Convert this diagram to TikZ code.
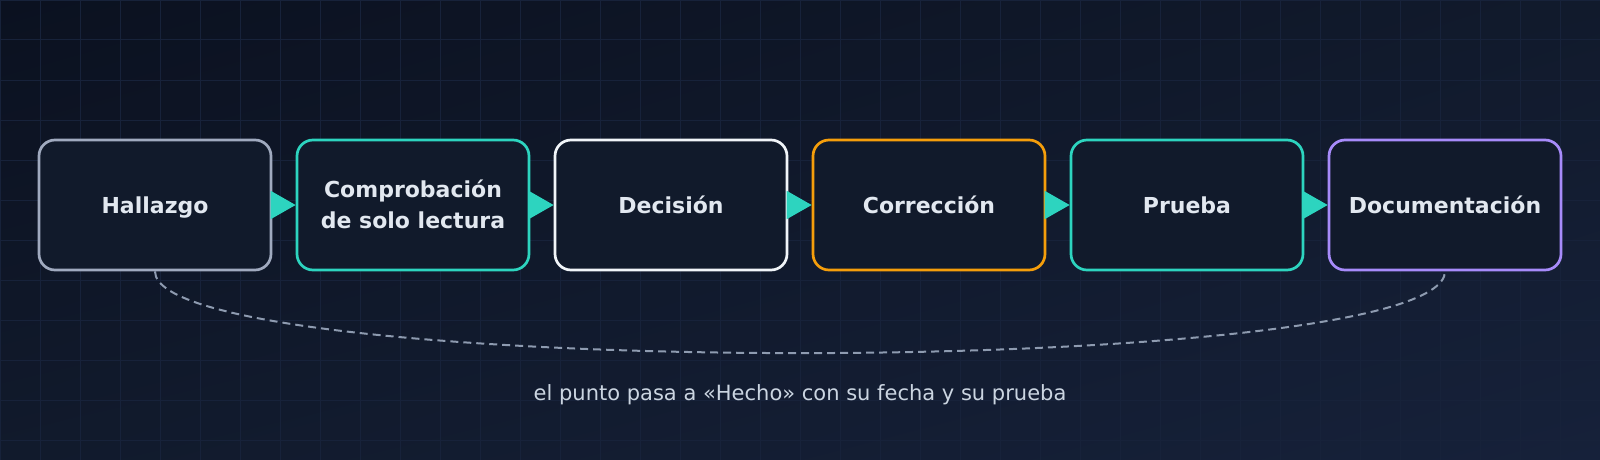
\documentclass[tikz,border=0pt]{standalone}
\usepackage{fontspec}
\setmainfont{DejaVu Sans}
\usetikzlibrary{arrows.meta, positioning, shadings}
\definecolor{bgtop}{HTML}{0B1120}
\definecolor{bgmid}{HTML}{111A2C}
\definecolor{bgbot}{HTML}{16213A}
\definecolor{gridc}{HTML}{17223A}
\definecolor{boxfill}{HTML}{111A2B}
\definecolor{txtc}{HTML}{E2E8F0}
\definecolor{slatec}{HTML}{A0AABF}
\definecolor{tealc}{HTML}{2DD4BF}
\definecolor{whitec}{HTML}{F1F5F9}
\definecolor{orangec}{HTML}{F59E0B}
\definecolor{purplec}{HTML}{A78BFA}
\definecolor{dashc}{HTML}{8E9BB0}
\definecolor{capc}{HTML}{CBD5E1}
\tikzstyle{stage} = [rectangle, rounded corners=16pt, minimum width=232pt, minimum height=130pt, text centered, align=center, line width=2.7pt, fill=boxfill, text=txtc, text height=16pt, text depth=0pt, font=\bfseries\fontsize{22}{31}\selectfont]
\tikzstyle{arrow} = [draw=tealc, fill=tealc, line width=2pt, -{Triangle[length=25pt, width=28pt]}]
\tikzstyle{loopback} = [draw=dashc, line width=2pt, dash pattern=on 8pt off 5pt]
\tikzstyle{caption} = [text=capc, font=\fontsize{21}{25}\selectfont]

\begin{document}
\begin{tikzpicture}[node distance=23.3pt]

% Background
\useasboundingbox (0,0) rectangle (1600pt,-460pt);
\shade[upper left=bgtop, upper right=bgmid, lower left=bgmid, lower right=bgbot] (0,0) rectangle (1600pt,-460pt);
\draw[gridc, line width=1pt, step=40pt] (0,0) grid (1600pt,-460pt);

% Nodes
\node (hallazgo) [stage, draw=slatec] at (155pt,-205pt) {Hallazgo};
\node (comprobacion) [stage, draw=tealc, text height=47pt, right=of hallazgo] {Comprobación\\de solo lectura};
\node (decision) [stage, draw=whitec, right=of comprobacion] {Decisión};
\node (correccion) [stage, draw=orangec, right=of decision] {Corrección};
\node (prueba) [stage, draw=tealc, right=of correccion] {Prueba};
\node (documentacion) [stage, draw=purplec, right=of prueba] {Documentación};
\node (nota) [caption] at (800pt,-395pt) {el punto pasa a «Hecho» con su fecha y su prueba};

% Arrows
\draw [arrow] (hallazgo) -- (comprobacion);
\draw [arrow] (comprobacion) -- (decision);
\draw [arrow] (decision) -- (correccion);
\draw [arrow] (correccion) -- (prueba);
\draw [arrow] (prueba) -- (documentacion);
\draw [loopback] (hallazgo.south) .. controls +(0,-109pt) and +(0,-109pt) .. (documentacion.south);

\end{tikzpicture}
\end{document}
